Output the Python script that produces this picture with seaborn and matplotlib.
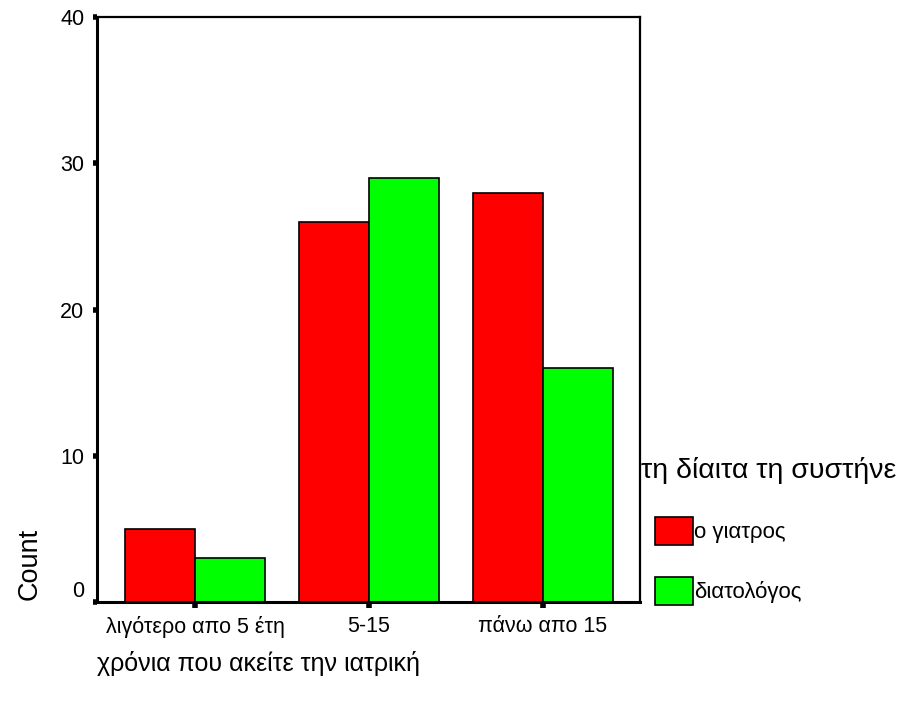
import matplotlib
matplotlib.use("Agg")
import matplotlib.pyplot as plt
import seaborn as sns
import pandas as pd

# Years in practice vs. who recommended the diet
categories = ["λιγότερο απο 5 έτη", "5-15", "πάνω απο 15"]
doctor = [5, 26, 28]
dietitian = [3, 29, 16]
hue_labels = ["ο γιατρος", "διατολόγος"]
legend_title = "τη δίαιτα τη συστήνε"
x_title = "χρόνια που ακείτε την ιατρική"
y_title = "Count"
y_ticks = [0, 10, 20, 30, 40]

df = pd.DataFrame({
    "years": categories * 2,
    "count": doctor + dietitian,
    "who": [hue_labels[0]] * len(categories) + [hue_labels[1]] * len(categories),
})

sns.set_theme(style="white")
plt.rcParams["font.family"] = ["Liberation Sans", "DejaVu Sans"]
plt.rcParams["text.color"] = "black"
plt.rcParams["xtick.color"] = "black"
plt.rcParams["ytick.color"] = "black"

fig = plt.figure(figsize=(9.04, 7.05), dpi=100)
ax = fig.add_axes([97 / 904, 1 - 602 / 705, 543 / 904, 585 / 705])

sns.barplot(data=df, x="years", y="count", hue="who", order=categories,
            hue_order=hue_labels, palette=["#ff0000", "#00ff00"],
            width=0.8, edgecolor="black", linewidth=1.2, saturation=1,
            ax=ax)

ax.set_ylim(0, 40)
ax.set_xlim(-0.563, 2.557)
ax.set_yticks(y_ticks)
ax.set_yticklabels([str(t) for t in y_ticks], fontsize=15.5)
ax.get_yticklabels()[0].set_va("bottom")
ax.tick_params(axis="y", direction="out", length=3, width=4, color="black",
               labelcolor="black", pad=6, left=True)
ax.tick_params(axis="x", direction="out", length=4, width=4, color="black",
               labelcolor="black", pad=6, bottom=True, labelsize=15.5)
ax.set_xlabel("")
ax.set_ylabel("")

for side in ["left", "bottom"]:
    ax.spines[side].set_linewidth(2.2)
    ax.spines[side].set_color("black")
for side in ["top", "right"]:
    ax.spines[side].set_linewidth(1.6)
    ax.spines[side].set_color("black")

ax.legend_.remove()
handles = [plt.Rectangle((0, 0), 1, 1, facecolor=c, edgecolor="black", linewidth=1.2)
           for c in ["#ff0000", "#00ff00"]]
fig.legend(handles, hue_labels, loc="upper left",
           bbox_to_anchor=(655 / 904, 1 - 517 / 705), frameon=False,
           fontsize=16, handlelength=1.7, handleheight=1.55,
           handletextpad=0.05, labelspacing=1.45, borderpad=0,
           borderaxespad=0)
fig.text(641 / 904, 1 - 470 / 705, legend_title, fontsize=20.5,
         ha="left", va="center")

fig.text(97 / 904, 1 - 663 / 705, x_title, fontsize=18, ha="left", va="center")
fig.text(30 / 904, 1 - 600 / 705, y_title, fontsize=19.5, rotation=90,
         ha="center", va="bottom")

fig.savefig("out.png", dpi=100)
